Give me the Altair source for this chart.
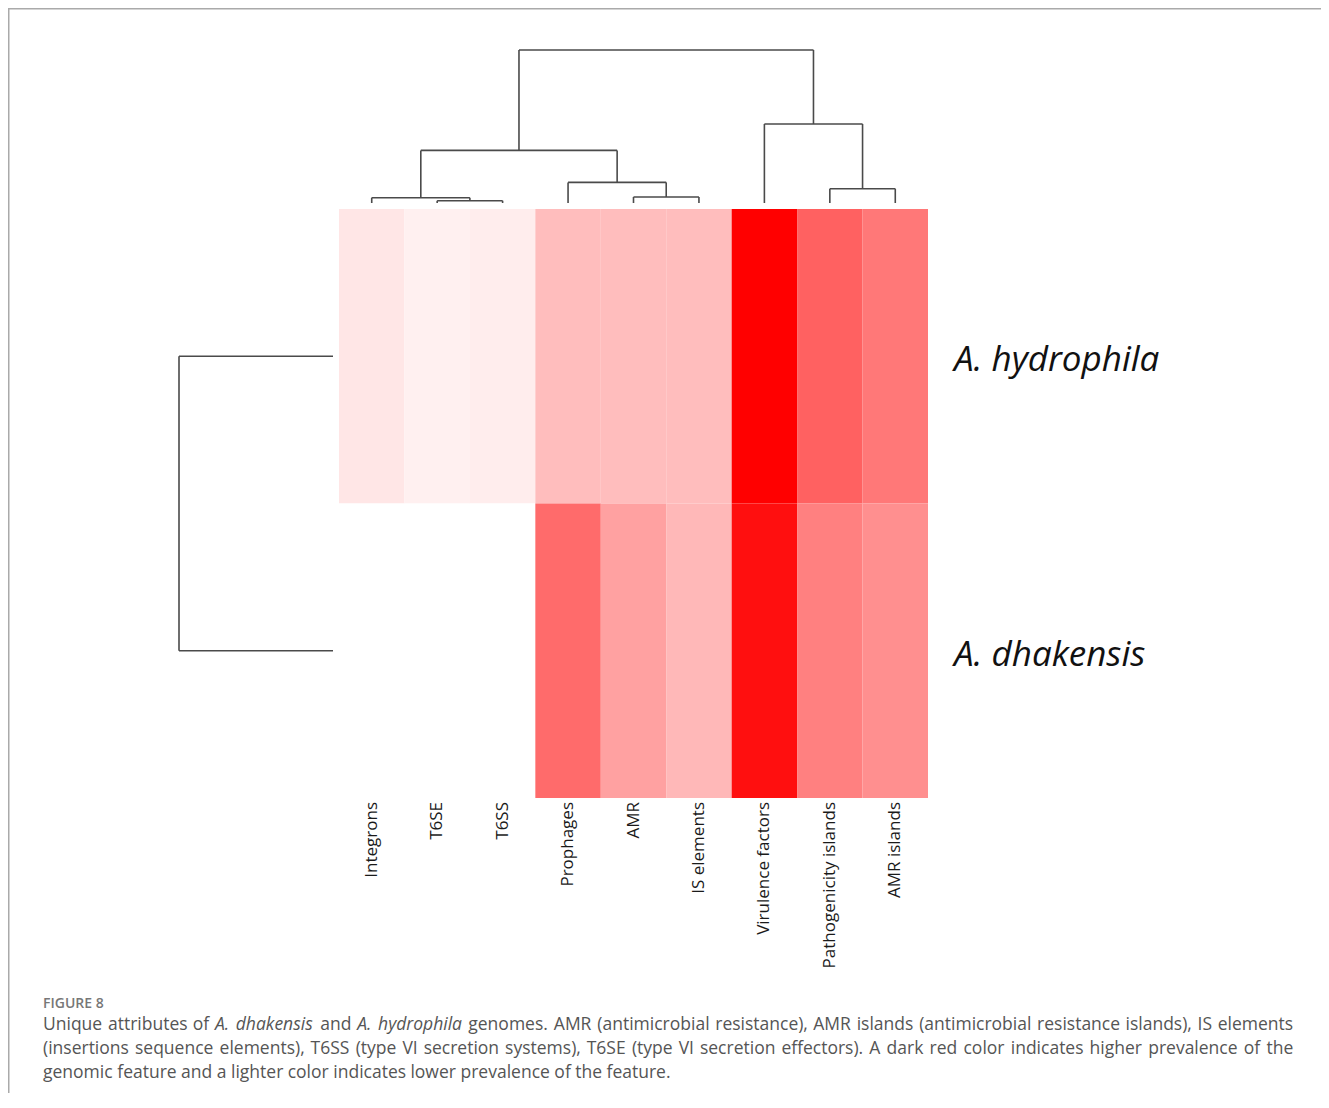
import altair as alt
import pandas as pd

# ---------------- data ----------------
features = ["Integrons", "T6SE", "T6SS", "Prophages", "AMR", "IS elements",
            "Virulence factors", "Pathogenicity islands", "AMR islands"]
species = ["A. hydrophila", "A. dhakensis"]
# relative prevalence (0 = absent/white, 1 = highest/red)
hydrophila_vals = [0.10, 0.06, 0.07, 0.26, 0.26, 0.26, 1.00, 0.62, 0.53]
dhakensis_vals = [0.00, 0.00, 0.00, 0.58, 0.37, 0.28, 0.94, 0.50, 0.44]

# column dendrogram: (left child, right child, linkage height); leaves are 0..8,
# internal nodes numbered 9.. in order of creation
col_links = [(1, 2, 2.3), (0, 9, 5.3), (4, 5, 6.0), (3, 11, 20.6),
             (10, 12, 52.6), (7, 8, 14.3), (6, 14, 79.0), (13, 15, 153.0)]
# row dendrogram: the two species join at this height
row_link_height = 154.0

caption_head = "FIGURE 8"
# caption lines as (text, italic) runs; lines 1-2 are justified, line 3 is not
caption_lines = [
    [("Unique attributes of", False), ("A. dhakensis", True), ("and", False), ("A. hydrophila", True),
     ("genomes. AMR (antimicrobial resistance), AMR islands (antimicrobial resistance islands), IS elements", False)],
    [("(insertions sequence elements), T6SS (type VI secretion systems), T6SE (type VI secretion effectors). A dark red color indicates higher prevalence of the", False)],
    [("genomic feature and a lighter color indicates lower prevalence of the feature.", False)],
]
caption_justify = [True, True, False]

# ---------------- tables ----------------
rows = []
for r, (sp, vals) in enumerate([(species[0], hydrophila_vals), (species[1], dhakensis_vals)]):
    for i, (f, v) in enumerate(zip(features, vals)):
        rows.append({"feature": f, "species": sp, "col": i, "row": r,
                     "x0": i - 0.5, "x1": i + 0.5, "y0": r - 0.5, "y1": r + 0.5, "value": v})
heat_df = pd.DataFrame(rows)

pos = {i: float(i) for i in range(len(features))}
hgt = {i: 0.0 for i in range(len(features))}
segs = []
for k, (a, b, h) in enumerate(col_links):
    node = len(features) + k
    segs.append({"x": pos[a], "x2": pos[a], "y": hgt[a], "y2": h})
    segs.append({"x": pos[b], "x2": pos[b], "y": hgt[b], "y2": h})
    segs.append({"x": pos[a], "x2": pos[b], "y": h, "y2": h})
    pos[node] = (pos[a] + pos[b]) / 2
    hgt[node] = h
col_dendro_df = pd.DataFrame(segs)

row_dendro_df = pd.DataFrame([
    {"h": 0.0, "h2": row_link_height, "r": 0.0, "r2": 0.0},
    {"h": 0.0, "h2": row_link_height, "r": 1.0, "r2": 1.0},
    {"h": row_link_height, "h2": row_link_height, "r": 0.0, "r2": 1.0},
])

labels_df = pd.DataFrame({"feature": features, "col": list(range(len(features)))})
species_df = pd.DataFrame({"species": species, "row": [0, 1]})

# ---------------- caption layout (approximate Open Sans advance widths, em units) ----------------
W = {" ": .26, "a": .556, "b": .613, "c": .476, "d": .613, "e": .561, "f": .336, "g": .546, "h": .614,
     "i": .253, "j": .253, "k": .525, "l": .253, "m": .93, "n": .614, "o": .604, "p": .613, "q": .613,
     "r": .408, "s": .477, "t": .344, "u": .614, "v": .5, "w": .778, "x": .522, "y": .5, "z": .465,
     "A": .633, "B": .647, "C": .631, "D": .729, "E": .556, "F": .516, "G": .728, "H": .738, "I": .279,
     "J": .267, "K": .614, "L": .519, "M": .907, "N": .764, "O": .779, "P": .602, "Q": .779, "R": .618,
     "S": .549, "T": .553, "U": .729, "V": .581, "W": .902, "X": .577, "Y": .56, "Z": .564,
     ".": .266, ",": .245, "(": .296, ")": .296, "-": .322}
CAP_SIZE = 17.5


def text_w(s, italic=False):
    w = sum(W.get(ch, 0.572) for ch in s) * CAP_SIZE
    return w * (0.96 if italic else 1.0)


LEFT, RIGHT = 35, 1285
cap_rows = []
for li, (runs, just) in enumerate(zip(caption_lines, caption_justify)):
    words = []
    for txt, it in runs:
        for wd in txt.split(" "):
            words.append((wd, it))
    widths = [text_w(wd, it) for wd, it in words]
    space = W[" "] * CAP_SIZE
    gap = space
    if just and len(words) > 1:
        gap = (RIGHT - LEFT - sum(widths)) / (len(words) - 1)
    xx = LEFT
    for (wd, it), w in zip(words, widths):
        cap_rows.append({"t": wd, "it": "italic" if it else "normal", "px": xx, "py": 1022 + 24 * li})
        xx += w + gap
cap_df = pd.DataFrame(cap_rows)

# ---------------- scales ----------------
def col_scale():
    return alt.Scale(domain=[-0.5, 8.5], range=[331, 920], nice=False, zero=False)

def row_scale():
    return alt.Scale(domain=[-0.5, 1.5], range=[201, 790], nice=False, zero=False)

LINE = "#4a4a4a"
FONT = "Open Sans"
CAP_FONT = "Open Sans"

heat = alt.Chart(heat_df).mark_rect(strokeWidth=0).encode(
    x=alt.X("x0:Q", scale=col_scale(), axis=None),
    x2="x1:Q",
    y=alt.Y("y0:Q", scale=row_scale(), axis=None),
    y2="y1:Q",
    color=alt.Color("value:Q", scale=alt.Scale(domain=[0, 1], range=["#ffffff", "#ff0000"],
                                               interpolate="rgb"), legend=None),
    tooltip=["species:N", "feature:N", "value:Q"],
)

top_dendro = alt.Chart(col_dendro_df).mark_rule(color=LINE, strokeWidth=1.6).encode(
    x=alt.X("x:Q", scale=col_scale(), axis=None),
    x2="x2:Q",
    y=alt.Y("y:Q", scale=alt.Scale(domain=[0, 153], range=[195, 42], nice=False, zero=False), axis=None),
    y2="y2:Q",
)

left_dendro = alt.Chart(row_dendro_df).mark_rule(color=LINE, strokeWidth=1.6).encode(
    x=alt.X("h:Q", scale=alt.Scale(domain=[0, 154], range=[325, 171], nice=False, zero=False), axis=None),
    x2="h2:Q",
    y=alt.Y("r:Q", scale=row_scale(), axis=None),
    y2="r2:Q",
)

col_labels = alt.Chart(labels_df).mark_text(
    angle=270, align="right", baseline="middle", font=FONT, fontSize=17, color="#1a1a1a"
).encode(
    x=alt.X("col:Q", scale=col_scale(), axis=None),
    y=alt.value(794),
    text="feature:N",
)

row_labels = alt.Chart(species_df).mark_text(
    align="left", baseline="middle", font=FONT, fontSize=35, fontStyle="italic", color="#111111", dy=4
).encode(
    x=alt.value(946),
    y=alt.Y("row:Q", scale=row_scale(), axis=None),
    text="species:N",
)

caption_normal = alt.Chart(cap_df[cap_df["it"] == "normal"]).mark_text(
    align="left", baseline="alphabetic", font=CAP_FONT, fontSize=CAP_SIZE, color="#555555"
).encode(x=alt.X("px:Q", scale=None, axis=None), y=alt.Y("py:Q", scale=None, axis=None), text="t:N")

caption_italic = alt.Chart(cap_df[cap_df["it"] == "italic"]).mark_text(
    align="left", baseline="alphabetic", font=CAP_FONT, fontSize=CAP_SIZE, fontStyle="italic", color="#555555"
).encode(x=alt.X("px:Q", scale=None, axis=None), y=alt.Y("py:Q", scale=None, axis=None), text="t:N")

head = alt.Chart(pd.DataFrame({"t": [caption_head]})).mark_text(
    align="left", baseline="alphabetic", font=CAP_FONT, fontSize=14, fontWeight=600, color="#777777"
).encode(x=alt.value(35), y=alt.value(1000), text="t:N")

frame_top = alt.Chart(pd.DataFrame({"a": [0]})).mark_rule(color="#aaaaaa", strokeWidth=1.5).encode(
    x=alt.value(0), x2=alt.value(1313), y=alt.value(0.75))
frame_left = alt.Chart(pd.DataFrame({"a": [0]})).mark_rule(color="#aaaaaa", strokeWidth=1.5).encode(
    x=alt.value(0.75), y=alt.value(0), y2=alt.value(1085))

chart = alt.layer(
    frame_top, frame_left, heat, top_dendro, left_dendro, col_labels, row_labels,
    head, caption_normal, caption_italic
).resolve_scale(x="independent", y="independent").properties(
    width=1313, height=1085, autosize=alt.AutoSizeParams(type="none"), padding=0
).configure_view(stroke=None)

chart.save("out.html", embed_options={"renderer": "svg", "actions": False})
